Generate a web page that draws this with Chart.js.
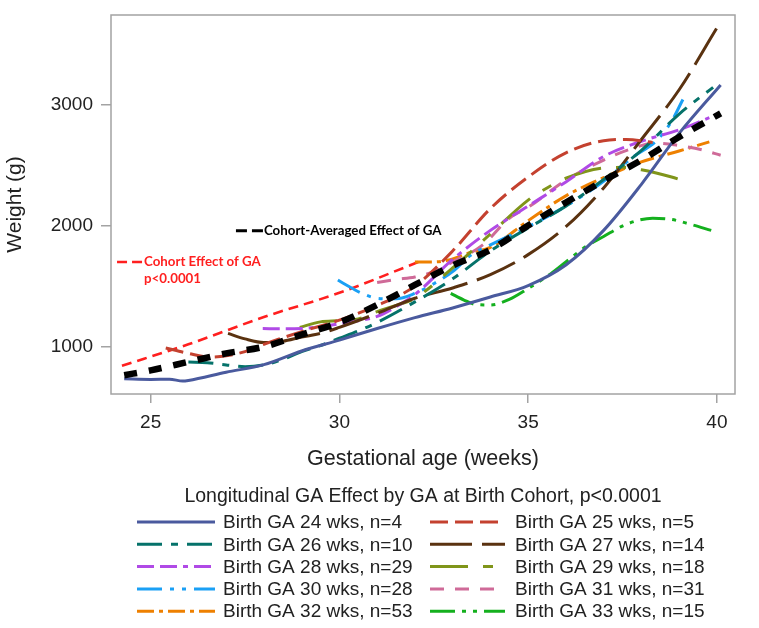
<!DOCTYPE html>
<html>
<head>
<meta charset="utf-8">
<title>Weight by gestational age</title>
<script src="https://cdn.jsdelivr.net/npm/chart.js@4.4.0/dist/chart.umd.min.js"></script>
<style>
    html, body { margin: 0; padding: 0; background: #fff; }
</style>
</head>
<body>
<canvas id="weightChart" width="759" height="628"></canvas>
<script>
// Axis ticks
const xTicks = [25, 30, 35, 40];
const yTicks = [1000, 2000, 3000];

// Birth cohorts: gestational age (weeks) and weight (g)
const wk24 = [24.3, 25.0, 25.5, 25.85, 26.0, 27.0, 28.0, 29.0, 30.0, 31.0, 32.0, 33.0, 34.0, 35.0, 36.0, 37.0, 38.0, 39.0, 40.1];
const wt24 = [735, 730, 732, 717, 722, 790, 852, 965, 1055, 1150, 1240, 1320, 1410, 1505, 1675, 1960, 2340, 2760, 3160];

const wk25 = [25.4, 26.0, 26.6, 27.0, 27.5, 28.0, 29.0, 30.0, 31.0, 32.0, 33.0, 34.0, 35.0, 36.0, 37.0, 37.6, 38.3];
const wt25 = [990, 945, 915, 925, 960, 1020, 1125, 1220, 1340, 1500, 1790, 2140, 2400, 2600, 2700, 2710, 2685];

const wk26 = [26.0, 26.5, 27.0, 27.5, 28.0, 28.5, 29.0, 29.5, 30.0, 30.5, 31.0, 32.0, 33.0, 34.0, 35.0, 36.0, 37.0, 38.0, 39.0, 39.9];
const wt26 = [873, 868, 850, 835, 850, 895, 960, 1010, 1070, 1130, 1200, 1370, 1560, 1790, 1980, 2160, 2380, 2620, 2920, 3140];

const wk27 = [27.05, 27.5, 28.0, 28.5, 29.0, 29.5, 30.0, 31.0, 32.0, 33.0, 34.0, 35.0, 36.0, 37.0, 38.0, 39.0, 40.0];
const wt27 = [1110, 1065, 1035, 1045, 1080, 1110, 1160, 1275, 1400, 1485, 1595, 1760, 1990, 2310, 2710, 3120, 3630];

const wk28 = [27.97, 28.5, 29.0, 29.5, 30.0, 30.5, 31.0, 31.5, 32.0, 33.0, 34.0, 35.0, 36.0, 37.0, 38.0, 39.0, 39.8];
const wt28 = [1150, 1148, 1150, 1165, 1190, 1215, 1250, 1330, 1430, 1720, 1960, 2160, 2360, 2570, 2695, 2790, 2890];

const wk29 = [28.95, 29.5, 30.0, 30.5, 31.0, 31.5, 32.0, 33.0, 34.0, 35.0, 35.5, 36.0, 37.0, 37.5, 38.0, 38.8, 39.1];
const wt29 = [1160, 1205, 1215, 1230, 1290, 1340, 1400, 1650, 1930, 2210, 2310, 2390, 2475, 2480, 2460, 2400, 2370];

const wk30 = [29.96, 30.35, 30.6, 31.0, 31.5, 32.0, 32.5, 33.0, 33.5, 34.0, 35.0, 36.0, 37.0, 37.8, 38.4, 38.8, 39.1];
const wt30 = [1550, 1480, 1440, 1400, 1395, 1440, 1520, 1620, 1760, 1840, 1990, 2160, 2365, 2570, 2700, 2860, 3040];

const wk31 = [31.0, 31.5, 32.0, 32.5, 33.0, 33.8, 34.5, 35.0, 36.0, 37.0, 37.7, 38.4, 39.0, 39.6, 40.1];
const wt31 = [1530, 1555, 1575, 1620, 1700, 1840, 2060, 2150, 2375, 2540, 2630, 2680, 2660, 2625, 2580];

const wk32 = [32.0, 32.5, 32.9, 33.5, 34.0, 35.0, 36.0, 37.0, 38.0, 39.0, 39.8];
const wt32 = [1700, 1700, 1715, 1780, 1820, 2040, 2245, 2395, 2525, 2615, 2690];

const wk33 = [32.95, 33.3, 33.6, 34.0, 34.5, 35.0, 35.5, 36.0, 36.5, 37.0, 37.6, 38.3, 38.8, 39.3, 39.85];
const wt33 = [1440, 1385, 1350, 1345, 1390, 1480, 1580, 1700, 1820, 1910, 2010, 2060, 2050, 2010, 1960];

// Cohort-averaged effect of GA
const wkAvg = [24.3, 25.0, 26.0, 27.0, 28.0, 29.0, 30.0, 31.0, 32.0, 33.0, 34.0, 35.0, 36.0, 37.0, 38.0, 39.0, 40.1];
const wtAvg = [765, 805, 875, 945, 1000, 1100, 1200, 1345, 1510, 1670, 1800, 2000, 2190, 2370, 2540, 2730, 2925];

// Cohort effect of GA
const wkCohort = [24.24, 26.0, 28.0, 30.0, 32.1];
const wtCohort = [843, 1020, 1245, 1445, 1700];

const cohortLabels = [
    'Birth GA 24 wks, n=4', 'Birth GA 25 wks, n=5',
    'Birth GA 26 wks, n=10', 'Birth GA 27 wks, n=14',
    'Birth GA 28 wks, n=29', 'Birth GA 29 wks, n=18',
    'Birth GA 30 wks, n=28', 'Birth GA 31 wks, n=31',
    'Birth GA 32 wks, n=53', 'Birth GA 33 wks, n=15',
];
const cohortWeeks = [wk24, wk25, wk26, wk27, wk28, wk29, wk30, wk31, wk32, wk33];
const cohortWeights = [wt24, wt25, wt26, wt27, wt28, wt29, wt30, wt31, wt32, wt33];
const cohortColors = ['#4a5a9e', '#c4412f', '#05726a', '#5a3210', '#b04ae6', '#80951a', '#1aa0f5', '#cf6a98', '#ee8000', '#14b01e'];
const cohortDashes = [
    [], [18, 7], [25, 9, 7, 9], [42, 10], [17, 6, 17, 6, 5, 6],
    [38, 15, 10, 15], [25, 8, 4, 8, 4, 8], [14, 11], [17, 5, 4, 5], [25, 7, 4, 7, 4, 7],
];

const FONT = "'Liberation Sans', Arial, sans-serif";
const frameColor = '#a3a3a3';
const textColor = '#222';

function toPoints(xs, ys) {
    return xs.map((x, i) => ({ x: x, y: ys[i] }));
}

const datasets = [];
datasets.push({
    label: 'Cohort-Averaged Effect of GA',
    data: toPoints(wkAvg, wtAvg),
    borderColor: '#000',
    borderWidth: 6.5,
    borderDash: [13, 12],
});
for (let i = 0; i < cohortLabels.length; i++) {
    datasets.push({
        label: cohortLabels[i],
        data: toPoints(cohortWeeks[i], cohortWeights[i]),
        borderColor: cohortColors[i],
        borderWidth: 3,
        borderDash: cohortDashes[i],
    });
}
datasets.push({
    label: 'Cohort Effect of GA',
    data: toPoints(wkCohort, wtCohort),
    borderColor: '#ff1f1f',
    borderWidth: 2.6,
    borderDash: [10, 6],
});

// Box around the plot area
const framePlugin = {
    id: 'frame',
    afterDatasetsDraw(chart) {
        const { ctx, chartArea: a } = chart;
        ctx.save();
        ctx.strokeStyle = frameColor;
        ctx.lineWidth = 1.5;
        ctx.strokeRect(a.left, a.top, a.right - a.left, a.bottom - a.top);
        ctx.restore();
    },
};

// Inline labels for the two effect lines
const notesPlugin = {
    id: 'notes',
    afterDatasetsDraw(chart) {
        const { ctx } = chart;
        const xs = chart.scales.x;
        const ys = chart.scales.y;
        ctx.save();
        ctx.font = "bold 13.3px Lato, 'Open Sans', sans-serif";
        ctx.textBaseline = 'middle';

        // cohort-averaged
        let x0 = xs.getPixelForValue(27.26);
        let y0 = ys.getPixelForValue(1957);
        ctx.strokeStyle = '#000';
        ctx.lineWidth = 3;
        ctx.setLineDash([11, 5]);
        ctx.beginPath();
        ctx.moveTo(x0, y0);
        ctx.lineTo(x0 + 27, y0);
        ctx.stroke();
        ctx.fillStyle = '#000';
        ctx.fillText('Cohort-Averaged Effect of GA', x0 + 28, y0);

        // cohort effect
        x0 = xs.getPixelForValue(24.11);
        y0 = ys.getPixelForValue(1699);
        ctx.strokeStyle = '#ff1f1f';
        ctx.lineWidth = 2.6;
        ctx.setLineDash([10, 5]);
        ctx.beginPath();
        ctx.moveTo(x0, y0);
        ctx.lineTo(x0 + 25, y0);
        ctx.stroke();
        ctx.fillStyle = '#ff1f1f';
        ctx.fillText('Cohort Effect of GA', x0 + 27, y0);
        ctx.fillText('p<0.0001', x0 + 27, ys.getPixelForValue(1559));
        ctx.restore();
    },
};

// Two-column legend under the x axis title
const legendPlugin = {
    id: 'twoColLegend',
    afterDraw(chart) {
        const { ctx } = chart;
        const a = chart.chartArea;
        ctx.save();
        ctx.fillStyle = textColor;
        ctx.font = '19.5px ' + FONT;
        ctx.textAlign = 'center';
        ctx.textBaseline = 'middle';
        ctx.fillText('Longitudinal GA Effect by GA at Birth Cohort, p<0.0001', (a.left + a.right) / 2, 497);

        ctx.font = '19px ' + FONT;
        ctx.textAlign = 'left';
        const cols = [{ line: 137, end: 215, text: 223 }, { line: 430, end: 505, text: 515 }];
        for (let i = 0; i < cohortLabels.length; i++) {
            const c = cols[i % 2];
            const y = 522 + Math.floor(i / 2) * 22.3;
            const ds = chart.data.datasets[i + 1];
            ctx.strokeStyle = ds.borderColor;
            ctx.lineWidth = 3;
            ctx.setLineDash(ds.borderDash);
            ctx.beginPath();
            ctx.moveTo(c.line, y);
            ctx.lineTo(c.end, y);
            ctx.stroke();
            ctx.setLineDash([]);
            ctx.fillText(ds.label, c.text, y + 1);
        }
        ctx.restore();
    },
};

const ctx = document.getElementById('weightChart').getContext('2d');
const chart = new Chart(ctx, {
    type: 'line',
    data: { datasets: datasets },
    options: {
        responsive: false,
        animation: false,
        layout: { padding: { left: 0, right: 24, top: 15, bottom: 156 } },
        elements: {
            point: { radius: 0 },
            line: { cubicInterpolationMode: 'monotone', borderCapStyle: 'butt', fill: false },
        },
        plugins: {
            legend: { display: false },
            tooltip: { enabled: false },
        },
        scales: {
            x: {
                type: 'linear',
                min: 23.95,
                max: 40.48,
                afterBuildTicks: (s) => { s.ticks = xTicks.map((v) => ({ value: v })); },
                afterFit: (s) => { s.height = 78; s.paddingLeft = 0; s.paddingRight = 0; },
                grid: { drawOnChartArea: false, tickLength: 9, color: frameColor, lineWidth: 1.5 },
                border: { display: false },
                ticks: { font: { family: FONT, size: 19 }, color: textColor, padding: 8, maxRotation: 0 },
                title: {
                    display: true,
                    text: 'Gestational age (weeks)',
                    font: { family: FONT, size: 21.5 },
                    color: textColor,
                    padding: { top: 0, bottom: 0 },
                },
            },
            y: {
                min: 610,
                max: 3737,
                afterBuildTicks: (s) => { s.ticks = yTicks.map((v) => ({ value: v })); },
                afterFit: (s) => { s.width = 111; s.paddingTop = 0; s.paddingBottom = 0; },
                grid: { drawOnChartArea: false, tickLength: 10, color: frameColor, lineWidth: 1.5 },
                border: { display: false },
                ticks: {
                    font: { family: FONT, size: 19 },
                    color: textColor,
                    padding: 8,
                    callback: (v) => String(v),
                },
                title: {
                    display: true,
                    text: 'Weight (g)',
                    font: { family: FONT, size: 21 },
                    color: textColor,
                    padding: { top: 3, bottom: 0 },
                },
            },
        },
    },
    plugins: [framePlugin, notesPlugin, legendPlugin],
});
</script>
</body>
</html>
